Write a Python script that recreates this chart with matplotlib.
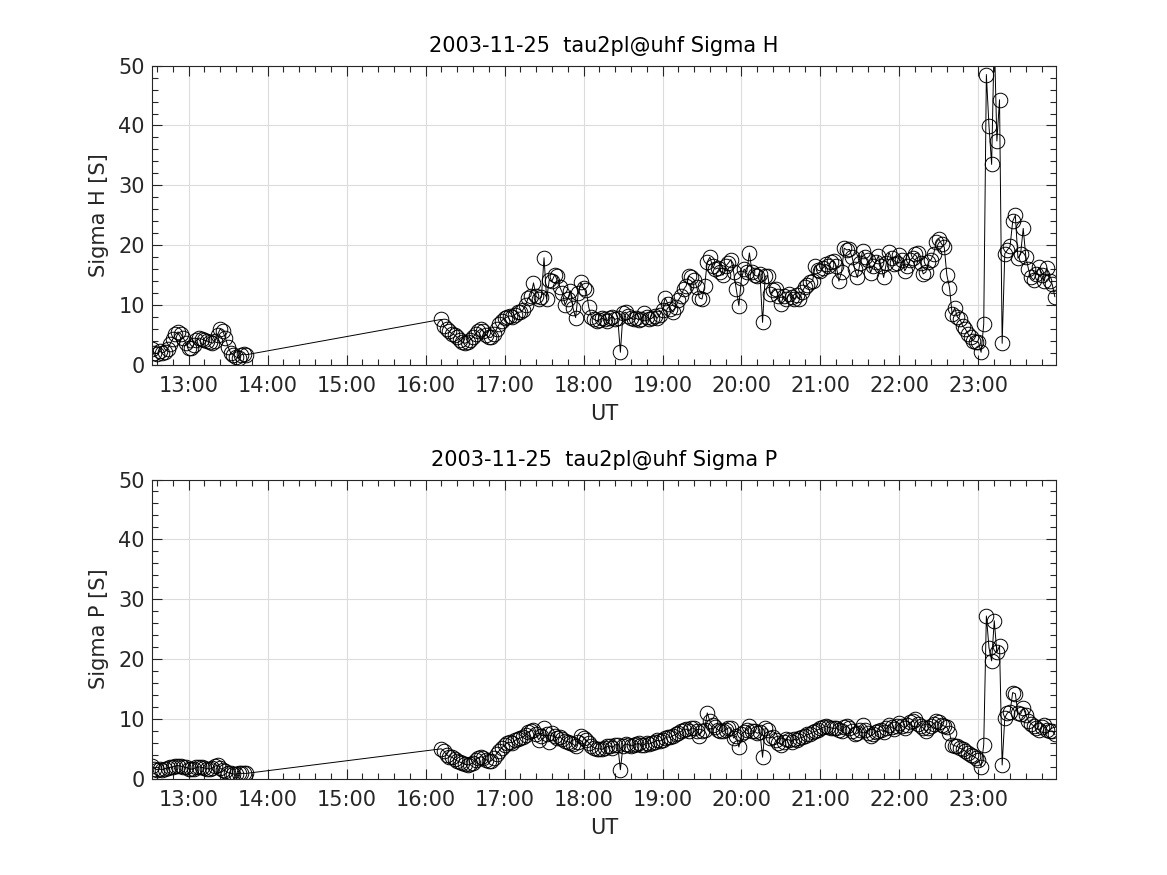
import numpy as np
import matplotlib
matplotlib.use("Agg")
import matplotlib.pyplot as plt
from matplotlib.ticker import FixedLocator, MultipleLocator, FuncFormatter

# ---- sample times (hours UT), 2-minute cadence, data gap 13:44 -> 16:12 ----
t_seg1 = 12 + 32/60 + np.arange(37) * 2/60          # 12:32 ... 13:44
t_seg2 = 16 + 12/60 + np.arange(234) * 2/60         # 16:12 ... 23:58
time_h = np.concatenate([t_seg1, t_seg2])

# ---- Sigma H [S] ----
sigma_h_seg1 = [
    2.7, 2.0, 1.9, 2.3, 2.0, 2.2, 2.7, 3.5, 4.3, 5.1,
    5.5, 5.2, 4.5, 3.6, 2.9, 2.8, 3.4, 4.1, 4.5, 4.3,
    4.1, 4.0, 3.8, 3.6, 4.0, 5.0, 6.0, 5.6, 4.5, 3.0,
    2.0, 1.7, 1.3, 1.2, 1.7, 1.8, 1.7,
]
sigma_h_seg2 = [
    7.6, 6.5, 6.0, 5.6, 5.2, 5.0, 4.6, 4.2, 3.8, 3.6,        # 16:12
    3.8, 4.2, 4.6, 5.2, 5.7, 6.0, 5.6, 5.0, 4.6, 4.6,        # 16:32
    5.2, 6.0, 6.8, 7.4, 7.8, 8.0, 8.2, 8.0, 8.4, 8.8,        # 16:52
    8.8, 9.2, 10.0, 11.2, 11.5, 13.7, 11.5, 11.0, 11.3, 17.9,  # 17:12
    11.0, 14.2, 14.0, 15.0, 14.8, 13.0, 12.0, 10.0, 11.0, 12.4,  # 17:32
    9.5, 7.9, 12.0, 13.8, 12.8, 12.5, 9.6, 8.0, 7.6, 7.4,    # 17:52
    7.5, 7.8, 7.6, 7.4, 7.8, 8.0, 7.6, 7.8, 2.1, 8.6,        # 18:12
    8.8, 8.2, 7.8, 7.6, 7.8, 7.5, 7.7, 8.6, 8.0, 7.6,        # 18:32
    7.8, 8.2, 7.8, 8.4, 9.2, 11.2, 10.2, 9.4, 8.8, 9.6,      # 18:52
    10.8, 11.5, 12.6, 13.2, 14.8, 14.6, 14.2, 13.0, 11.2, 11.0,  # 19:12
    13.2, 17.2, 18.0, 16.5, 16.0, 16.2, 15.6, 15.0, 16.5, 17.0,  # 19:32
    17.6, 15.5, 12.7, 9.9, 14.5, 16.0, 15.5, 18.7, 15.5, 15.0,   # 19:52
    14.8, 15.2, 7.1, 14.8, 14.9, 11.8, 12.5, 12.7, 11.5, 10.2,   # 20:12
    11.5, 11.0, 11.8, 11.4, 11.0, 11.6, 11.0, 12.2, 13.0, 13.4,  # 20:32
    13.8, 14.0, 16.6, 15.8, 15.7, 16.2, 16.8, 16.5, 17.2, 17.4,  # 20:52
    16.5, 14.0, 15.5, 19.5, 19.2, 19.3, 18.0, 16.0, 14.6, 17.0,  # 21:12
    19.0, 18.0, 17.6, 15.4, 16.5, 17.2, 18.2, 16.5, 14.6, 17.0,  # 21:32
    18.8, 17.8, 16.8, 17.0, 18.4, 17.5, 15.7, 16.5, 17.5, 17.9,  # 21:52
    18.6, 18.7, 17.0, 15.2, 15.5, 17.2, 17.6, 18.6, 20.5, 21.0,  # 22:12
    20.2, 19.7, 15.0, 12.9, 8.5, 9.5, 8.0, 7.6, 6.5, 6.0,        # 22:32
    5.2, 4.6, 4.0, 3.9, 3.8, 2.1, 6.8, 48.5, 39.9, 33.5,         # 22:52
    55.0, 37.4, 44.3, 3.6, 18.6, 19.2, 19.8, 24.0, 25.0, 17.8,   # 23:12
    18.5, 22.8, 18.0, 16.0, 14.6, 14.2, 15.2, 16.3, 15.0, 14.0,  # 23:32
    16.2, 14.0, 13.5, 11.4,                                      # 23:52
]

# ---- Sigma P [S] ----
sigma_p_seg1 = [
    2.2, 1.7, 1.5, 1.6, 1.5, 1.7, 1.8, 1.9, 2.0, 2.1,
    2.2, 2.1, 2.0, 1.9, 1.7, 1.6, 1.7, 1.9, 2.0, 1.9,
    1.8, 1.7, 1.6, 1.8, 2.1, 2.3, 1.8, 1.5, 1.3, 1.0,
    0.9, 0.8, 0.8, 0.9, 0.9, 0.9, 0.9,
]
sigma_p_seg2 = [
    5.0, 4.6, 4.0, 3.7, 3.6, 3.3, 3.0, 2.8, 2.6, 2.4,   # 16:12
    2.3, 2.4, 2.7, 3.1, 3.5, 3.7, 3.5, 3.2, 2.9, 3.0,   # 16:32
    3.5, 4.2, 4.7, 5.2, 5.6, 6.0, 6.1, 6.0, 6.4, 6.7,   # 16:52
    6.8, 7.0, 7.3, 7.8, 8.0, 8.2, 7.4, 6.5, 7.2, 8.4,   # 17:12
    7.4, 6.2, 7.7, 7.2, 6.8, 7.0, 6.6, 6.3, 6.2, 6.0,   # 17:32
    5.8, 5.4, 6.2, 7.2, 6.8, 6.5, 6.0, 5.5, 5.2, 5.0,   # 17:52
    5.0, 4.9, 5.1, 5.4, 5.5, 5.2, 5.7, 5.6, 1.5, 5.5,   # 18:12
    5.8, 5.7, 5.5, 5.6, 5.8, 5.9, 5.6, 5.7, 6.0, 5.8,   # 18:32
    6.0, 6.2, 6.4, 6.3, 6.5, 6.8, 7.0, 6.9, 7.2, 7.4,   # 18:52
    7.6, 7.9, 8.2, 8.3, 8.0, 8.5, 8.4, 8.0, 7.2, 7.9,   # 19:12
    8.2, 11.0, 9.6, 9.0, 8.6, 8.2, 8.0, 7.9, 8.2, 8.5,  # 19:32
    8.5, 6.8, 7.2, 5.3, 7.4, 7.8, 8.2, 8.8, 8.0, 7.9,   # 19:52
    7.6, 7.8, 3.6, 8.5, 8.2, 6.8, 7.0, 6.4, 6.0, 5.7,   # 20:12
    6.2, 6.6, 6.5, 6.2, 6.6, 6.4, 6.8, 6.9, 7.1, 7.4,   # 20:32
    7.5, 7.8, 7.9, 8.2, 8.4, 8.6, 8.8, 8.6, 8.5, 8.4,   # 20:52
    8.5, 8.2, 8.0, 8.6, 8.8, 8.4, 8.0, 7.4, 7.6, 8.2,   # 21:12
    9.0, 8.2, 7.6, 7.1, 7.4, 7.8, 7.9, 8.2, 7.8, 8.4,   # 21:32
    9.0, 8.6, 8.3, 8.8, 9.3, 8.8, 8.5, 8.9, 9.4, 9.6,   # 21:52
    9.9, 9.2, 8.8, 8.5, 7.9, 8.4, 8.8, 9.2, 9.6, 9.4,   # 22:12
    9.0, 8.8, 8.6, 7.7, 5.7, 5.5, 5.4, 5.1, 4.9, 4.6,   # 22:32
    4.3, 4.0, 3.8, 3.5, 3.2, 2.0, 5.7, 27.2, 21.9, 19.7,  # 22:52
    26.4, 21.1, 22.2, 2.3, 10.2, 11.0, 11.2, 14.4, 14.2, 11.0,  # 23:12
    10.8, 11.8, 10.7, 9.6, 9.2, 8.8, 8.4, 8.2, 8.6, 9.0,  # 23:32
    8.2, 7.9, 8.0, 7.4,                                   # 23:52
]

sigma_h = np.array(sigma_h_seg1 + sigma_h_seg2)
sigma_p = np.array(sigma_p_seg1 + sigma_p_seg2)

hour_ticks = list(range(13, 24))
titles = ["2003-11-25  tau2pl@uhf Sigma H", "2003-11-25  tau2pl@uhf Sigma P"]
ylabels = ["Sigma H [S]", "Sigma P [S]"]
xlabel = "UT"

plt.rcParams['font.family'] = ['DejaVu Sans']
dark = '#262626'

fig = plt.figure(figsize=(11.67, 8.75), dpi=100)
positions = [[0.13, 0.583, 0.775, 0.342], [0.13, 0.11, 0.775, 0.342]]

for pos, ys, ttl, yl in zip(positions, [sigma_h, sigma_p], titles, ylabels):
    ax = fig.add_axes(pos)
    ax.plot(time_h, ys, color='black', lw=0.7, marker='o', ms=10.5,
            mfc='none', mec='black', mew=0.7)
    ax.set_xlim(12 + 32/60, 23 + 59/60)
    ax.set_ylim(0, 50)
    ax.xaxis.set_major_locator(FixedLocator(hour_ticks))
    ax.xaxis.set_major_formatter(FuncFormatter(lambda v, p: f"{int(round(v)):02d}:00"))
    ax.xaxis.set_minor_locator(MultipleLocator(0.2))
    ax.yaxis.set_major_locator(MultipleLocator(10))
    ax.yaxis.set_minor_locator(MultipleLocator(2))
    ax.tick_params(which='both', direction='in', top=True, right=True,
                   colors=dark, labelsize=15, width=0.8)
    ax.tick_params(which='major', length=7)
    ax.tick_params(which='minor', length=4)
    ax.tick_params(axis='x', which='major', pad=8)
    ax.tick_params(axis='y', which='major', pad=5)
    ax.grid(True, which='major', color='#dcdcdc', lw=0.8)
    ax.set_axisbelow(True)
    for s in ax.spines.values():
        s.set_color(dark)
        s.set_linewidth(0.8)
    ax.set_title(ttl, fontsize=15, color='black', pad=10)
    ax.set_ylabel(yl, fontsize=15, color=dark, labelpad=7)
    ax.set_xlabel(xlabel, fontsize=15, color=dark, labelpad=6)

fig.savefig("out.png", dpi=100)
